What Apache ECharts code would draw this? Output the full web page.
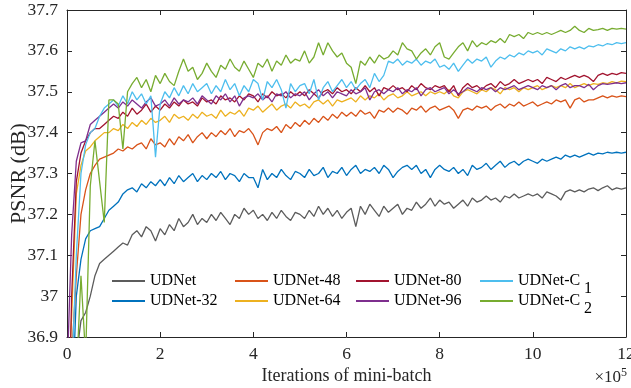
<!DOCTYPE html>
<html>
<head>
<meta charset="utf-8">
<script src="https://cdn.jsdelivr.net/npm/echarts@6/dist/echarts.min.js"></script>
<style>
  html, body { margin: 0; padding: 0; background: #fff; }
  #chart { width: 631px; height: 388px; }
</style>
</head>
<body>
<div id="chart"></div>
<script>
// samples every 0.1 x 1e5 iterations, from 0 to 12
const STEP = 0.1

const NAMES = ['UDNet', 'UDNet-32', 'UDNet-48', 'UDNet-64', 'UDNet-80', 'UDNet-96', 'UDNet-C1', 'UDNet-C2']
const COLORS = ['#5c5c5c', '#0072bd', '#d95319', '#edb120', '#a2142f', '#7e2f8e', '#4dbeee', '#77ac30']

const X_TICKS = [0, 2, 4, 6, 8, 10, 12]
const Y_TICKS = [36.9, 37, 37.1, 37.2, 37.3, 37.4, 37.5, 37.6, 37.7]

const udnet = [
  36.50, 36.60, 36.85, 36.94, 36.96, 37.00, 37.05, 37.08, 37.09, 37.10,
  37.11, 37.12, 37.13, 37.125, 37.15, 37.16, 37.145, 37.17, 37.16, 37.135,
  37.165, 37.15, 37.175, 37.16, 37.19, 37.17, 37.18, 37.20, 37.175, 37.19,
  37.18, 37.20, 37.185, 37.205, 37.19, 37.175, 37.20, 37.19, 37.215, 37.20,
  37.21, 37.19, 37.20, 37.185, 37.205, 37.19, 37.21, 37.195, 37.185, 37.205,
  37.20, 37.19, 37.21, 37.195, 37.22, 37.20, 37.215, 37.195, 37.21, 37.19,
  37.205, 37.215, 37.17, 37.22, 37.20, 37.225, 37.21, 37.195, 37.22, 37.205,
  37.215, 37.225, 37.20, 37.215, 37.21, 37.23, 37.215, 37.225, 37.24, 37.22,
  37.235, 37.225, 37.23, 37.215, 37.225, 37.235, 37.22, 37.24, 37.23, 37.235,
  37.245, 37.235, 37.24, 37.23, 37.245, 37.24, 37.25, 37.24, 37.245, 37.25,
  37.245, 37.25, 37.24, 37.255, 37.25, 37.245, 37.235, 37.255, 37.26, 37.255,
  37.26, 37.255, 37.262, 37.265, 37.258, 37.265, 37.27, 37.26, 37.265, 37.262, 37.265
]
const udnet32 = [
  36.50, 36.70, 37.00, 37.09, 37.14, 37.16, 37.165, 37.17, 37.19, 37.21,
  37.22, 37.23, 37.25, 37.26, 37.265, 37.255, 37.275, 37.265, 37.28, 37.27,
  37.285, 37.27, 37.29, 37.275, 37.295, 37.28, 37.29, 37.30, 37.28, 37.295,
  37.285, 37.30, 37.29, 37.305, 37.285, 37.30, 37.295, 37.28, 37.30, 37.29,
  37.29, 37.265, 37.31, 37.285, 37.30, 37.29, 37.31, 37.295, 37.285, 37.305,
  37.30, 37.29, 37.31, 37.295, 37.30, 37.315, 37.29, 37.305, 37.30, 37.315,
  37.295, 37.31, 37.32, 37.30, 37.31, 37.305, 37.315, 37.30, 37.32, 37.31,
  37.29, 37.305, 37.315, 37.32, 37.31, 37.32, 37.30, 37.31, 37.29, 37.31,
  37.32, 37.31, 37.305, 37.315, 37.30, 37.31, 37.295, 37.32, 37.31, 37.315,
  37.325, 37.31, 37.32, 37.33, 37.315, 37.325, 37.33, 37.32, 37.33, 37.335,
  37.33, 37.325, 37.335, 37.33, 37.335, 37.34, 37.335, 37.345, 37.34, 37.345,
  37.34, 37.345, 37.35, 37.345, 37.35, 37.348, 37.352, 37.35, 37.352, 37.35, 37.352
]
const udnet48 = [
  36.60, 36.85, 37.05, 37.20, 37.26, 37.30, 37.32, 37.335, 37.34, 37.345,
  37.35, 37.36, 37.355, 37.365, 37.36, 37.37, 37.375, 37.36, 37.385, 37.37,
  37.375, 37.365, 37.385, 37.37, 37.39, 37.38, 37.395, 37.375, 37.39, 37.40,
  37.385, 37.40, 37.39, 37.405, 37.395, 37.41, 37.39, 37.405, 37.40, 37.41,
  37.395, 37.37, 37.40, 37.41, 37.405, 37.415, 37.40, 37.42, 37.41, 37.425,
  37.415, 37.43, 37.42, 37.435, 37.425, 37.44, 37.43, 37.445, 37.435, 37.45,
  37.44, 37.45, 37.44, 37.455, 37.445, 37.45, 37.435, 37.455, 37.45, 37.46,
  37.45, 37.46, 37.455, 37.445, 37.46, 37.455, 37.465, 37.45, 37.46, 37.465,
  37.455, 37.46, 37.465, 37.455, 37.435, 37.455, 37.46, 37.455, 37.465, 37.46,
  37.465, 37.455, 37.465, 37.47, 37.46, 37.47, 37.465, 37.475, 37.465, 37.47,
  37.475, 37.465, 37.47, 37.475, 37.47, 37.48, 37.475, 37.48, 37.46, 37.48,
  37.485, 37.475, 37.48, 37.48, 37.485, 37.49, 37.485, 37.49, 37.487, 37.49, 37.488
]
const udnet64 = [
  36.70, 36.95, 37.25, 37.32, 37.355, 37.365, 37.38, 37.39, 37.40, 37.40,
  37.41, 37.405, 37.42, 37.41, 37.425, 37.415, 37.43, 37.42, 37.435, 37.425,
  37.43, 37.44, 37.425, 37.445, 37.435, 37.44, 37.43, 37.445, 37.435, 37.45,
  37.44, 37.445, 37.435, 37.455, 37.44, 37.45, 37.445, 37.455, 37.44, 37.46,
  37.455, 37.465, 37.45, 37.46, 37.47, 37.455, 37.465, 37.47, 37.46, 37.475,
  37.465, 37.47, 37.46, 37.475, 37.48, 37.47, 37.48, 37.465, 37.48, 37.475,
  37.48, 37.485, 37.475, 37.49, 37.48, 37.49, 37.485, 37.495, 37.48, 37.49,
  37.495, 37.485, 37.49, 37.50, 37.49, 37.495, 37.50, 37.49, 37.50, 37.495,
  37.50, 37.495, 37.505, 37.49, 37.485, 37.50, 37.505, 37.50, 37.495, 37.505,
  37.50, 37.51, 37.505, 37.495, 37.51, 37.505, 37.51, 37.50, 37.51, 37.505,
  37.51, 37.515, 37.505, 37.51, 37.515, 37.51, 37.515, 37.51, 37.52, 37.51,
  37.515, 37.52, 37.515, 37.52, 37.518, 37.522, 37.52, 37.525, 37.522, 37.526, 37.525
]
const udnet80 = [
  36.50, 37.00, 37.28, 37.35, 37.38, 37.40, 37.41, 37.41, 37.42, 37.43,
  37.44, 37.435, 37.45, 37.44, 37.46, 37.445, 37.455, 37.47, 37.45, 37.465,
  37.455, 37.47, 37.46, 37.475, 37.465, 37.48, 37.47, 37.475, 37.465, 37.485,
  37.475, 37.48, 37.47, 37.49, 37.48, 37.485, 37.475, 37.49, 37.48, 37.495,
  37.49, 37.475, 37.495, 37.485, 37.50, 37.49, 37.495, 37.485, 37.50, 37.49,
  37.50, 37.49, 37.505, 37.495, 37.485, 37.50, 37.505, 37.495, 37.51, 37.50,
  37.505, 37.495, 37.51, 37.50, 37.515, 37.50, 37.51, 37.49, 37.51, 37.505,
  37.515, 37.505, 37.51, 37.50, 37.515, 37.505, 37.52, 37.51, 37.505, 37.515,
  37.51, 37.515, 37.50, 37.515, 37.49, 37.51, 37.52, 37.51, 37.515, 37.505,
  37.515, 37.52, 37.51, 37.525, 37.515, 37.52, 37.53, 37.52, 37.525, 37.53,
  37.525, 37.53, 37.52, 37.535, 37.53, 37.525, 37.535, 37.53, 37.535, 37.54,
  37.535, 37.54, 37.535, 37.525, 37.54, 37.545, 37.54, 37.545, 37.542, 37.547, 37.545
]
const udnet96 = [
  36.80, 37.15, 37.33, 37.375, 37.38, 37.42, 37.43, 37.44, 37.45, 37.46,
  37.47, 37.46, 37.475, 37.465, 37.48, 37.47, 37.46, 37.475, 37.485, 37.465,
  37.47, 37.48, 37.465, 37.485, 37.47, 37.48, 37.475, 37.485, 37.47, 37.49,
  37.48, 37.47, 37.49, 37.48, 37.495, 37.475, 37.49, 37.465, 37.485, 37.49,
  37.485, 37.495, 37.48, 37.49, 37.475, 37.495, 37.49, 37.50, 37.485, 37.495,
  37.49, 37.50, 37.48, 37.495, 37.505, 37.49, 37.50, 37.485, 37.50, 37.495,
  37.49, 37.505, 37.495, 37.50, 37.51, 37.48, 37.50, 37.505, 37.495, 37.505,
  37.50, 37.51, 37.495, 37.505, 37.50, 37.51, 37.49, 37.505, 37.51, 37.50,
  37.505, 37.51, 37.495, 37.505, 37.495, 37.50, 37.51, 37.505, 37.50, 37.51,
  37.505, 37.51, 37.50, 37.51, 37.505, 37.51, 37.515, 37.505, 37.51, 37.515,
  37.51, 37.505, 37.515, 37.51, 37.515, 37.505, 37.515, 37.52, 37.51, 37.515,
  37.515, 37.51, 37.518, 37.505, 37.515, 37.52, 37.518, 37.52, 37.522, 37.52, 37.522
]
const udnetC1 = [
  36.50, 36.80, 37.10, 37.30, 37.37, 37.40, 37.41, 37.44, 37.46, 37.47,
  37.48, 37.465, 37.49, 37.47, 37.50, 37.48, 37.495, 37.47, 37.49, 37.34,
  37.47, 37.50, 37.485, 37.51, 37.49, 37.515, 37.495, 37.52, 37.50, 37.51,
  37.52, 37.495, 37.515, 37.50, 37.53, 37.505, 37.52, 37.49, 37.515, 37.50,
  37.53, 37.52, 37.48, 37.525, 37.51, 37.53, 37.505, 37.46, 37.52, 37.50,
  37.515, 37.52, 37.495, 37.53, 37.48, 37.51, 37.525, 37.50, 37.515, 37.53,
  37.51, 37.525, 37.505, 37.52, 37.53, 37.51, 37.545, 37.525, 37.54, 37.575,
  37.57, 37.58, 37.565, 37.575, 37.57, 37.58, 37.565, 37.575, 37.57, 37.58,
  37.56, 37.565, 37.555, 37.57, 37.55, 37.565, 37.58, 37.57, 37.58, 37.575,
  37.585, 37.56, 37.575, 37.585, 37.58, 37.59, 37.585, 37.595, 37.59, 37.60,
  37.595, 37.60, 37.59, 37.605, 37.60, 37.595, 37.605, 37.60, 37.61, 37.605,
  37.61, 37.605, 37.612, 37.61, 37.615, 37.612, 37.618, 37.615, 37.62, 37.618, 37.62
]
const udnetC2 = [
  36.50, 36.60, 36.80, 37.05, 36.85, 37.27, 37.38, 37.28, 37.18, 37.48,
  37.48, 37.47, 37.36, 37.50, 37.52, 37.535, 37.51, 37.53, 37.50, 37.54,
  37.52, 37.545, 37.525, 37.515, 37.55, 37.58, 37.55, 37.56, 37.53, 37.545,
  37.57, 37.55, 37.535, 37.565, 37.555, 37.58, 37.56, 37.55, 37.575, 37.555,
  37.535, 37.57, 37.56, 37.58, 37.55, 37.575, 37.565, 37.59, 37.57, 37.58,
  37.575, 37.60, 37.57, 37.585, 37.62, 37.59, 37.62, 37.60, 37.585, 37.595,
  37.57, 37.56, 37.52, 37.575, 37.565, 37.585, 37.57, 37.59, 37.58, 37.585,
  37.60, 37.59, 37.62, 37.605, 37.60, 37.58, 37.595, 37.605, 37.59, 37.61,
  37.62, 37.585, 37.58, 37.595, 37.61, 37.62, 37.60, 37.625, 37.61, 37.62,
  37.615, 37.625, 37.62, 37.63, 37.62, 37.64, 37.635, 37.64, 37.63, 37.645,
  37.64, 37.645, 37.64, 37.645, 37.64, 37.645, 37.65, 37.645, 37.65, 37.66,
  37.65, 37.645, 37.655, 37.65, 37.652, 37.655, 37.65, 37.655, 37.653, 37.655, 37.653
]
const SERIES = [udnet, udnet32, udnet48, udnet64, udnet80, udnet96, udnetC1, udnetC2]

const FONT = 'Liberation Serif'
const INK = '#262626'

const chart = echarts.init(document.getElementById('chart'))

const tickFmt = (v) => String(Number(v.toFixed(2)))

const axisBase = {
  type: 'value',
  axisLine: { show: true, onZero: false, lineStyle: { color: INK, width: 1 } },
  axisTick: { show: true, inside: true, length: 5, lineStyle: { color: INK } },
  splitLine: { show: false },
}

// the C variants get their subscript digit drawn separately below
const legendLabel = (name) => name.replace(/^(UDNet-C)\d$/, '$1')

const legendCol = (names, left) => ({
  data: names,
  orient: 'vertical',
  left,
  top: 273,
  itemWidth: 33,
  itemHeight: 2,
  itemGap: 4,
  padding: 0,
  selectedMode: false,
  formatter: legendLabel,
  textStyle: { color: '#000', fontFamily: FONT, fontSize: 16, lineHeight: 16 },
})

chart.setOption({
  animation: false,
  grid: { left: 67, right: 5, top: 10, bottom: 51, containLabel: false, outerBoundsMode: 'none' },
  legend: [
    legendCol([NAMES[0], NAMES[1]], 111),
    legendCol([NAMES[2], NAMES[3]], 234),
    legendCol([NAMES[4], NAMES[5]], 355),
    legendCol([NAMES[6], NAMES[7]], 479),
  ],
  xAxis: [
    {
      ...axisBase,
      min: X_TICKS[0], max: X_TICKS[X_TICKS.length - 1], interval: 2,
      axisLabel: { color: INK, fontFamily: FONT, fontSize: 17.5, margin: 8 },
      name: 'Iterations of mini-batch',
      nameLocation: 'middle',
      nameGap: 30,
      nameMoveOverlap: false,
      nameTextStyle: { color: INK, fontFamily: FONT, fontSize: 18 },
    },
    {
      ...axisBase,
      position: 'top',
      min: X_TICKS[0], max: X_TICKS[X_TICKS.length - 1], interval: 2,
      axisLabel: { show: false },
    },
  ],
  yAxis: [
    {
      ...axisBase,
      min: Y_TICKS[0], max: Y_TICKS[Y_TICKS.length - 1], interval: 0.1,
      axisLabel: { color: INK, fontFamily: FONT, fontSize: 17.5, margin: 9, formatter: tickFmt },
      name: 'PSNR (dB)',
      nameLocation: 'middle',
      nameGap: 37,
      nameMoveOverlap: false,
      nameTextStyle: { color: INK, fontFamily: FONT, fontSize: 22 },
    },
    {
      ...axisBase,
      position: 'right',
      min: Y_TICKS[0], max: Y_TICKS[Y_TICKS.length - 1], interval: 0.1,
      axisLabel: { show: false },
    },
  ],
  graphic: [
    {
      type: 'text',
      left: 584,
      top: 281,
      style: { text: '1', fontFamily: FONT, fontSize: 16, fill: '#000' },
    },
    {
      type: 'text',
      left: 584,
      top: 301,
      style: { text: '2', fontFamily: FONT, fontSize: 16, fill: '#000' },
    },
    {
      type: 'text',
      right: 4,
      top: 367,
      style: {
        text: '{a|×10}{b|5}',
        rich: {
          a: { fontFamily: FONT, fontSize: 17, fill: INK },
          b: { fontFamily: FONT, fontSize: 12, fill: INK, padding: [0, 0, 10, 0] },
        },
      },
    },
  ],
  series: SERIES.map((vals, k) => ({
    name: NAMES[k],
    type: 'line',
    symbol: 'none',
    color: COLORS[k],
    lineStyle: { width: 1.3, color: COLORS[k] },
    data: vals.map((v, i) => [Number((i * STEP).toFixed(1)), v]),
  })),
})
</script>
</body>
</html>
